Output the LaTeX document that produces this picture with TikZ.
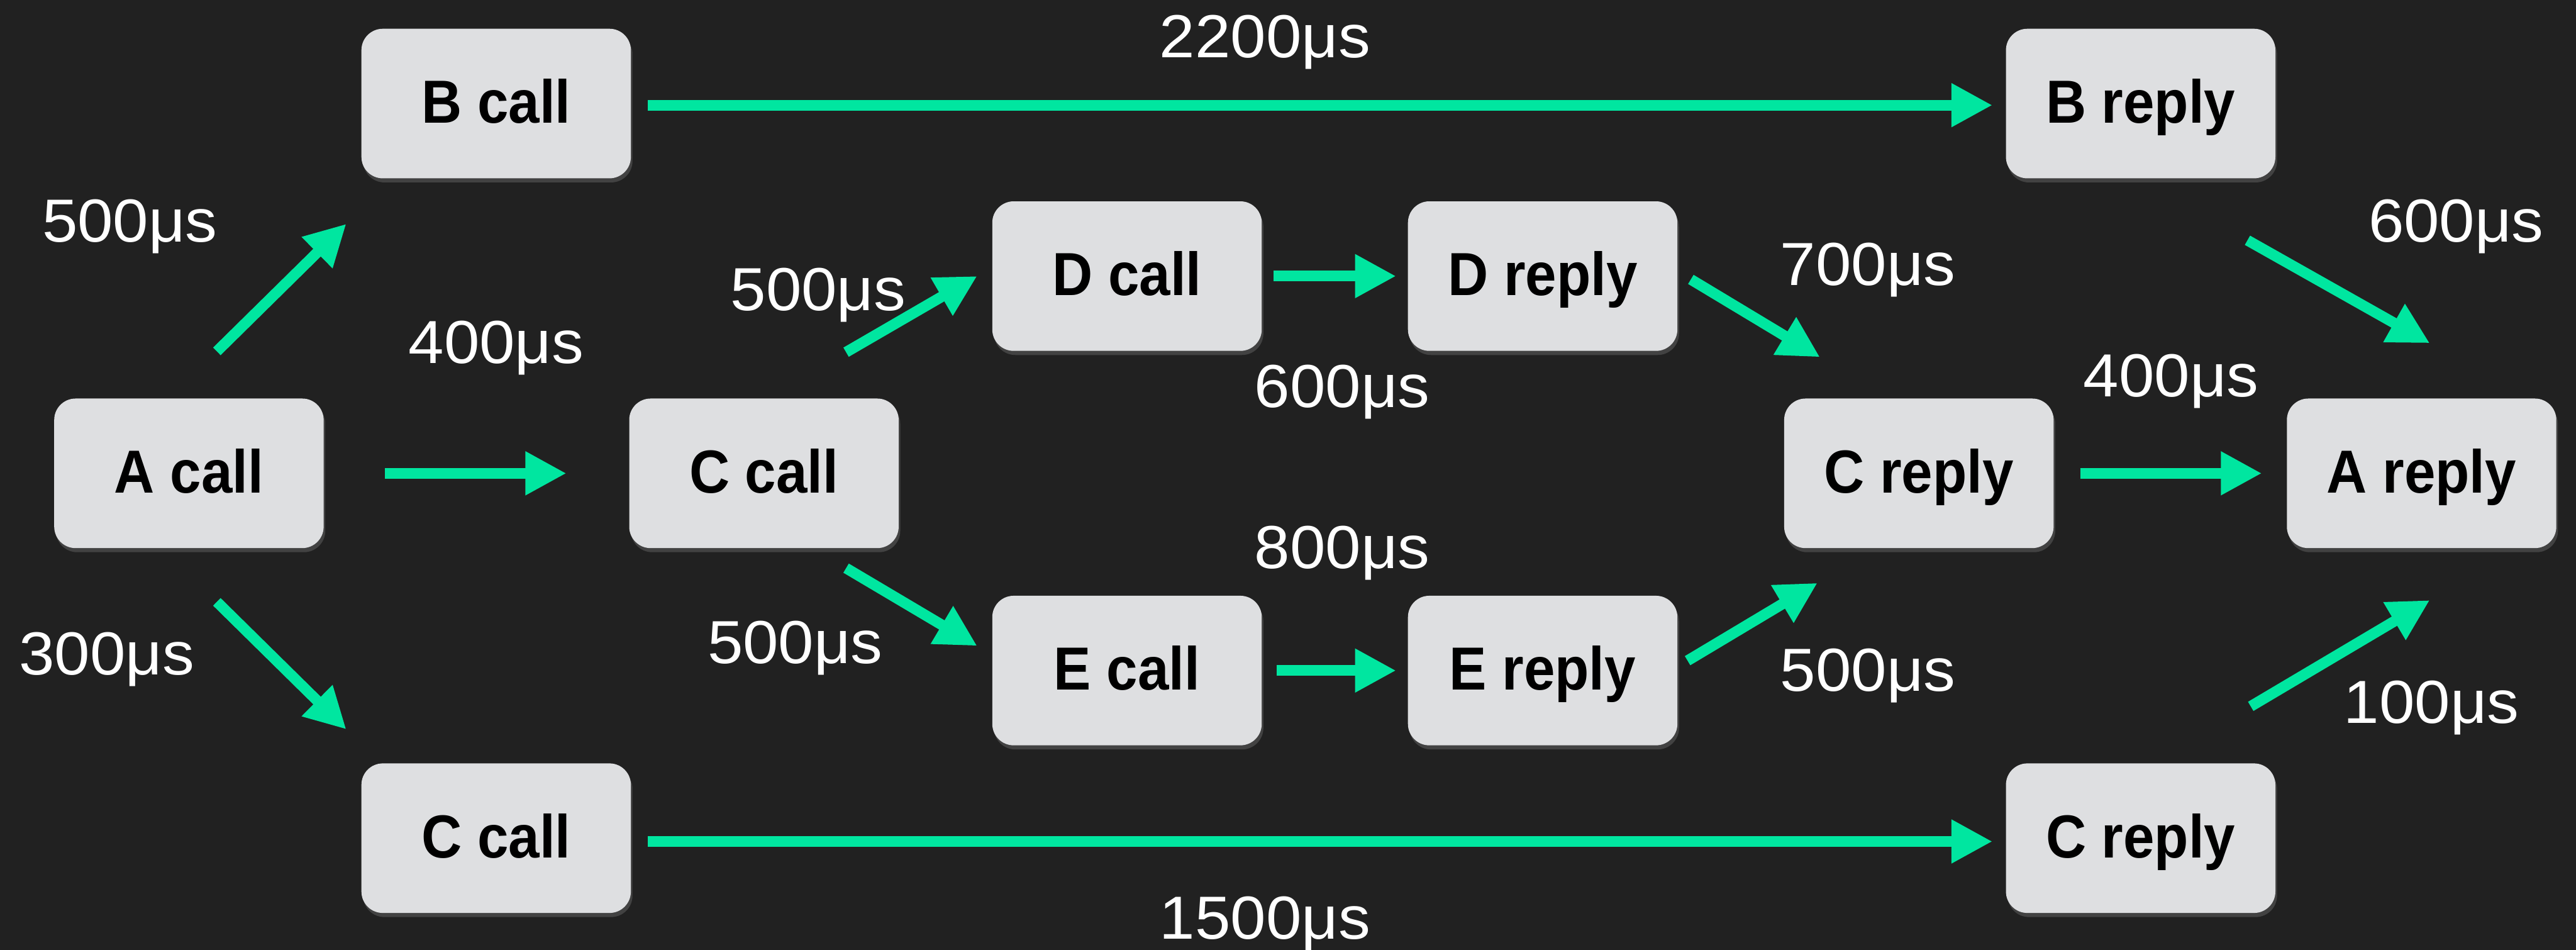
\documentclass[tikz,border=0pt]{standalone}
\usepackage{fontspec}
\setmainfont{Liberation Sans}
\newfontfamily\boxfont[FakeStretch=0.92]{Liberation Sans Bold}
\newfontfamily\numfont[FakeStretch=1.05]{Liberation Sans}
\usetikzlibrary{arrows.meta,shadows}

\definecolor{bgdark}{HTML}{212121}
\definecolor{boxgrey}{HTML}{DEDFE1}
\definecolor{flowgreen}{HTML}{00E6A0}

\tikzset{
  span/.style={draw=none, fill=boxgrey, rounded corners=13pt,
    minimum width=164pt, minimum height=91pt, inner sep=0pt,
    text height=26.6pt, text depth=3pt, text=black,
    font=\boxfont\fontsize{37}{40}\selectfont,
    drop shadow={opacity=0.35, shadow xshift=1pt, shadow yshift=-2.5pt}},
  flow/.style={draw=flowgreen, line width=6.5pt,
    -{Triangle[length=25pt,width=25pt]}, shorten <=0pt},
  lat/.style={anchor=base, text=white, inner sep=0pt,
    font=\numfont\fontsize{37}{40}\selectfont}
}

\begin{document}
\begin{tikzpicture}[x=1pt,y=-1pt]
  % canvas
  \fill[bgdark] (0,0) rectangle (1568,578);
  \useasboundingbox (0,0) rectangle (1568,578);

  % call / reply spans
  \node[span] (acall)  at (115,288)  {A call};
  \node[span] (bcall)  at (302,63)   {B call};
  \node[span] (ccall)  at (465,288)  {C call};
  \node[span] (ccallb) at (302,510)  {C call};
  \node[span] (dcall)  at (686,168)  {D call};
  \node[span] (drep)   at (939,168)  {D reply};
  \node[span] (ecall)  at (686,408)  {E call};
  \node[span] (erep)   at (939,408)  {E reply};
  \node[span] (crep)   at (1168,288) {C reply};
  \node[span] (arep)   at (1474,288) {A reply};
  \node[span] (brep)   at (1303,63)  {B reply};
  \node[span] (crepb)  at (1303,510) {C reply};

  % transitions
  \draw[flow] ([shift={(17,-28.5)}]acall.north) -- ([shift={(-9,27.5)}]bcall.south west);
  \draw[flow] ([shift={(37,0)}]acall.east) -- ([shift={(-38,0)}]ccall.west);
  \draw[flow] ([shift={(17,32.5)}]acall.south) -- ([shift={(-9,-20.5)}]ccallb.north west);
  \draw[flow] ([shift={(10,1)}]bcall.east) -- ([shift={(-8,1)}]brep.west);
  \draw[flow] ([shift={(50,-28)}]ccall.north) -- ([shift={(-9,0)}]dcall.west);
  \draw[flow] ([shift={(50,12)}]ccall.south) -- ([shift={(-9,-15)}]ecall.west);
  \draw[flow] ([shift={(7,0)}]dcall.east) -- ([shift={(-7,0)}]drep.west);
  \draw[flow] ([shift={(9,0)}]ecall.east) -- ([shift={(-7,0)}]erep.west);
  \draw[flow] ([shift={(8,2)}]drep.east) -- ([shift={(22,-25)}]crep.north west);
  \draw[flow] ([shift={(6,-6)}]erep.east) -- ([shift={(20.5,21)}]crep.south west);
  \draw[flow] ([shift={(16,0)}]crep.east) -- ([shift={(-15,0)}]arep.west);
  \draw[flow] ([shift={(65,37.5)}]brep.south) -- ([shift={(5,-33.5)}]arep.north);
  \draw[flow] ([shift={(67,-34.5)}]crepb.north) -- ([shift={(5,31.5)}]arep.south);
  \draw[flow] ([shift={(10,2)}]ccallb.east) -- ([shift={(-8,2)}]crepb.west);

  % durations
  \node[lat] (t2200) at (770,35)    {2200μs};
  \node[lat] (tab)   at (79,147)    {500μs};
  \node[lat] (tac)   at (302,221)   {400μs};
  \node[lat] (tacb)  at (65,410.5)  {300μs};
  \node[lat] (tcd)   at (498,189)   {500μs};
  \node[lat] (tce)   at (484,403.5) {500μs};
  \node[lat] (td)    at (817,248)   {600μs};
  \node[lat] (te)    at (817,346)   {800μs};
  \node[lat] (tdr)   at (1137,173.5){700μs};
  \node[lat] (ter)   at (1137,420.5){500μs};
  \node[lat] (tca)   at (1321.5,241.5){400μs};
  \node[lat] (tba)   at (1495,147)  {600μs};
  \node[lat] (tcba)  at (1480,440)  {100μs};
  \node[lat] (t1500) at (770,571.5) {1500μs};
\end{tikzpicture}
\end{document}
